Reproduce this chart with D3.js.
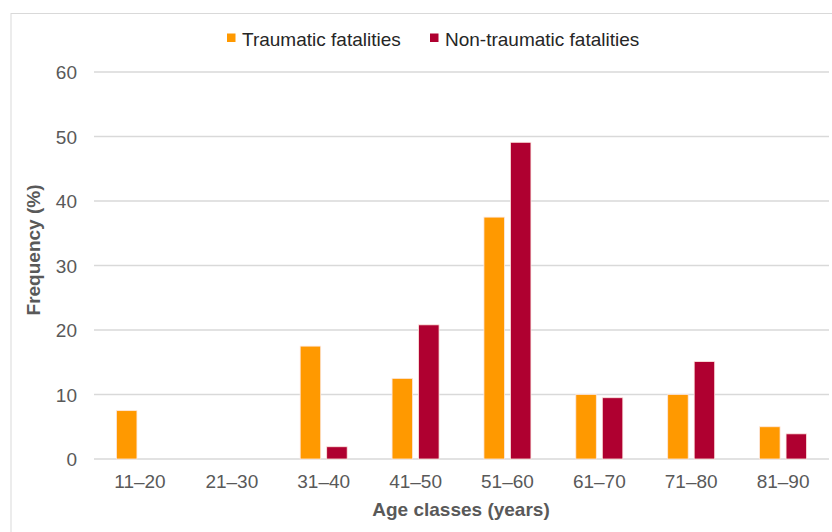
<!DOCTYPE html>
<html><head><meta charset="utf-8">
<script src="https://cdn.jsdelivr.net/npm/d3@7"></script>
<style>body{margin:0;background:#fff}svg{display:block;font-family:"Liberation Sans",Arial,sans-serif}</style>
</head><body>
<svg id="c" width="832" height="532"></svg>
<script>
const categories = ["11–20","21–30","31–40","41–50","51–60","61–70","71–80","81–90"];
const seriesNames = ["Traumatic fatalities","Non-traumatic fatalities"];
const traumatic = [7.5, 0, 17.5, 12.5, 37.5, 10, 10, 5];
const nonTraumatic = [0, 0, 1.9, 20.8, 49.1, 9.5, 15.1, 3.9];
const yTicks = [0,10,20,30,40,50,60];
const colors = ["#FF9900","#AF0030"];

const svg = d3.select("#c");
// frame
svg.append("rect").attr("x",11).attr("y",13.5).attr("width",840).attr("height",540)
  .attr("fill","none").attr("stroke","#d9d9d9").attr("stroke-width",1);

const pLeft=94, pRight=829, pTop=72, pBottom=459;
const x0 = d3.scaleBand().domain(categories).range([pLeft,pRight]).paddingInner(0).paddingOuter(0);
const x1 = d3.scaleBand().domain(seriesNames).range([-23.5,23.5]).paddingInner(0.226);
const y = d3.scaleLinear().domain([0,60]).range([pBottom,pTop]);

// grid
svg.append("g").selectAll("line").data(yTicks).join("line")
  .attr("x1",pLeft).attr("x2",pRight).attr("y1",d=>y(d)).attr("y2",d=>y(d))
  .attr("stroke","#d9d9d9").attr("stroke-width",1.3);

// y axis labels
const yAxis = d3.axisLeft(y).tickValues(yTicks).tickSize(0).tickPadding(0);
const ya = svg.append("g").attr("transform",`translate(${77},0)`).call(yAxis);
ya.select(".domain").remove();
ya.selectAll("text").attr("font-size",19).attr("fill","#595959").attr("font-family","Liberation Sans, Arial, sans-serif").attr("dy","0.36em");

// x axis labels
const xAxis = d3.axisBottom(x0).tickSize(0).tickPadding(0);
const xa = svg.append("g").attr("transform",`translate(0,${474})`).call(xAxis);
xa.select(".domain").remove();
xa.selectAll("text").attr("font-size",19).attr("fill","#595959").attr("font-family","Liberation Sans, Arial, sans-serif").attr("dy","0.75em");

// bars
const data = categories.map((c,i)=>({c, vals:[traumatic[i], nonTraumatic[i]]}));
const g = svg.append("g");
data.forEach(d=>{
  d.vals.forEach((v,j)=>{
    if(v<=0) return;
    g.append("rect")
      .attr("x", x0(d.c)+x0.bandwidth()/2 + x1(seriesNames[j]))
      .attr("y", y(v))
      .attr("width", x1.bandwidth())
      .attr("height", y(0)-y(v))
      .attr("fill", colors[j])
      .attr("stroke","#fde8e0").attr("stroke-width",0.8);
  });
});

// axis titles
svg.append("text").attr("x",461).attr("y",516).attr("text-anchor","middle")
  .attr("font-size",19).attr("font-weight","bold").attr("fill","#595959").text("Age classes (years)");
svg.append("text").attr("transform","translate(40,250) rotate(-90)").attr("text-anchor","middle")
  .attr("font-size",19).attr("font-weight","bold").attr("fill","#595959").text("Frequency (%)");

// legend
const legX=[227,430];
seriesNames.forEach((n,j)=>{
  svg.append("rect").attr("x",legX[j]).attr("y",33.5).attr("width",8.5).attr("height",8.5).attr("fill",colors[j]);
  svg.append("text").attr("x",legX[j]+15).attr("y",45.5).attr("font-size",19).attr("fill","#262626").text(n);
});
</script>
</body></html>
